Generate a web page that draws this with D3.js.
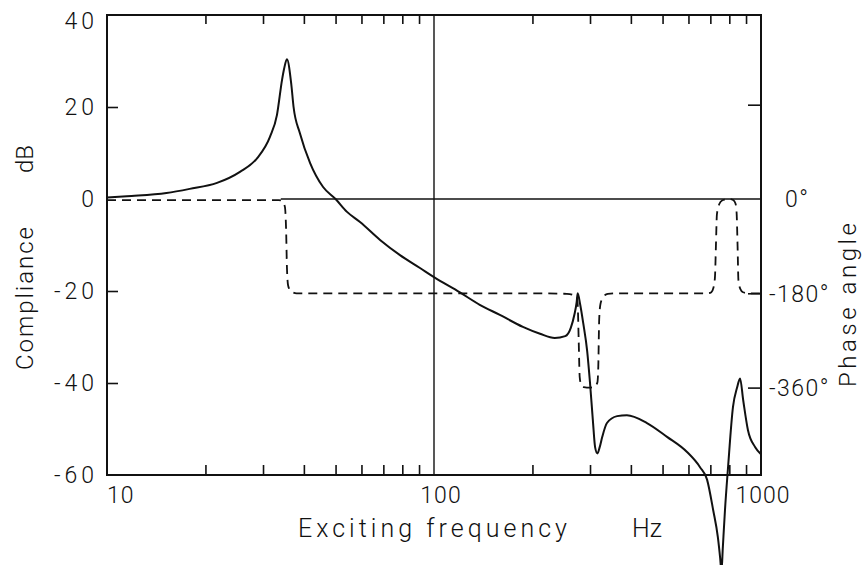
<!DOCTYPE html>
<html>
<head>
<meta charset="utf-8">
<script src="https://cdn.jsdelivr.net/npm/d3@7"></script>
<style>
  body { margin: 0; background: #fff; }
  svg text { font-family: Roboto, "DejaVu Sans", sans-serif; font-weight: 300; fill: #111; }
</style>
</head>
<body>
<svg id="chart" width="866" height="565"></svg>
<script>
// Compliance magnitude (dB) against exciting frequency (Hz)
const complianceHz = [10, 11.5, 15.2, 17.9, 21.7, 25.5, 28.8, 31.5, 33.1, 34.3, 34.8, 35.5, 36.6, 37.2, 38.9,
    41.8, 45.8, 50, 54.2, 59.4, 68.4, 78.7, 90.6, 100, 120, 138, 159, 187, 211, 234, 252, 262, 269, 273,
    275, 280, 286, 294, 300, 306, 311, 316, 321, 327, 338, 363, 389, 448, 516, 594, 651, 684, 714, 738,
    750, 757, 764, 776, 793, 821, 845, 863, 882, 912, 959, 1000];
const complianceDb = [0.3, 0.6, 1.3, 2.2, 3.5, 5.9, 8.9, 13.5, 18.3, 25.9, 28.3, 30.4, 25, 20, 14.3,
    7.8, 2.6, 0, -2.8, -5, -8.9, -12.2, -15, -17, -20.3, -23, -25.2, -27.8, -29.3, -30.2, -29.8, -28, -25, -22.5,
    -20.5, -23, -27, -33, -40, -48, -54, -55.3, -54, -51.7, -48.7, -47.2, -47, -48.7, -51.7, -55, -58.3, -61, -67.6, -73.5,
    -78, -81, -76, -67.6, -58.3, -45.2, -41, -39, -43.7, -50.2, -53.9, -55.5];

// Phase angle (degrees) against exciting frequency (Hz)
const phaseHz = [10, 20, 33.5, 34.4, 35, 35.3, 35.5, 35.8, 36.5, 38, 100, 200, 255, 266, 273, 275, 277,
    279, 282, 287, 300, 310, 316, 318, 320, 323, 330, 340, 360, 689, 705, 715, 723, 728, 733, 745, 760,
    780, 804, 822, 835, 842, 848, 853, 865, 881, 920, 1000];
const phaseDeg = [-2, -2, -2, -4, -15, -60, -130, -165, -176, -180, -180, -180, -181, -183, -187, -200, -270,
    -340, -355, -359, -360, -358, -350, -320, -230, -200, -186, -181, -180, -180, -178, -170, -150, -90, -30, -10, -3,
    -1, 0, -2, -8, -25, -90, -155, -172, -178, -180, -180];

// Axis ticks and labels
const dbTicks = [40, 20, 0, -20, -40, -60];
const dbTickLabels = ["40", "20", "0", "-20", "-40", "-60"];
const dbInnerTicks = [20, -20, -40];
const phaseInnerTicks = [180, -180, -360];
const phaseLabelTicks = [0, -180, -360];
const phaseTickLabels = ["0°", "-180°", "-360°"];
const freqLabelTicks = [10, 100, 1000];
const freqTickLabels = ["10", "100", "1000"];
const minorHz = [20, 30, 40, 50, 60, 70, 80, 90, 200, 300, 400, 500, 600, 700, 800, 900];

const svg = d3.select("#chart");
const plot = { left: 107, right: 761, top: 15, bottom: 475 };

const x = d3.scaleLog().domain([10, 1000]).range([plot.left, plot.right]);
const y = d3.scaleLinear().domain([-60, 40]).range([plot.bottom, plot.top]);
const yPhase = d3.scaleLinear().domain([0, -360]).range([y(0), y(-41)]);

const ink = "#111";

// inward minor ticks on top and bottom
svg.append("g")
    .attr("transform", `translate(0,${plot.bottom})`)
    .call(d3.axisBottom(x).tickValues(minorHz).tickSize(-10).tickFormat(""))
    .call(g => g.select(".domain").remove())
    .call(g => g.selectAll("line").attr("stroke", ink).attr("stroke-width", 1.6));

svg.append("g")
    .attr("transform", `translate(0,${plot.top})`)
    .call(d3.axisTop(x).tickValues(minorHz).tickSize(-9).tickFormat(""))
    .call(g => g.select(".domain").remove())
    .call(g => g.selectAll("line").attr("stroke", ink).attr("stroke-width", 1.6));

svg.append("g")
    .attr("transform", `translate(${plot.left},0)`)
    .call(d3.axisLeft(y).tickValues(dbInnerTicks).tickSize(-11).tickFormat(""))
    .call(g => g.select(".domain").remove())
    .call(g => g.selectAll("line").attr("stroke", ink).attr("stroke-width", 1.6));

svg.append("g")
    .attr("transform", `translate(${plot.right},0)`)
    .call(d3.axisRight(yPhase).tickValues(phaseInnerTicks).tickSize(-13).tickFormat(""))
    .call(g => g.select(".domain").remove())
    .call(g => g.selectAll("line").attr("stroke", ink).attr("stroke-width", 1.6));

// reference lines: 100 Hz and 0 dB / 0°
svg.append("line")
    .attr("x1", x(100)).attr("x2", x(100))
    .attr("y1", plot.top).attr("y2", plot.bottom)
    .attr("stroke", ink).attr("stroke-width", 1.4);

svg.append("line")
    .attr("x1", x(34)).attr("x2", plot.right)
    .attr("y1", y(0)).attr("y2", y(0))
    .attr("stroke", ink).attr("stroke-width", 1.4);

// frame
svg.append("rect")
    .attr("x", plot.left).attr("y", plot.top)
    .attr("width", plot.right - plot.left).attr("height", plot.bottom - plot.top)
    .attr("fill", "none")
    .attr("stroke", ink)
    .attr("stroke-width", 2);

// phase curve (dashed)
const phaseData = phaseHz.map((f, i) => ({ f, v: phaseDeg[i] }));
svg.append("path")
    .datum(phaseData)
    .attr("fill", "none")
    .attr("stroke", ink)
    .attr("stroke-width", 1.8)
    .attr("stroke-dasharray", "9,6")
    .attr("d", d3.line()
        .curve(d3.curveMonotoneX)
        .x(d => x(d.f))
        .y(d => yPhase(d.v)));

// compliance curve (solid)
const complianceData = complianceHz.map((f, i) => ({ f, v: complianceDb[i] }));
svg.append("path")
    .datum(complianceData)
    .attr("fill", "none")
    .attr("stroke", ink)
    .attr("stroke-width", 2)
    .attr("stroke-linejoin", "round")
    .attr("d", d3.line()
        .curve(d3.curveMonotoneX)
        .x(d => x(d.f))
        .y(d => y(d.v)));

// left tick labels
svg.append("g")
    .selectAll("text")
    .data(dbTicks)
    .enter()
    .append("text")
    .attr("x", plot.left - 9)
    .attr("y", d => Math.max(y(d), plot.top + 6))
    .attr("dy", "0.36em")
    .attr("text-anchor", "end")
    .style("font-size", "23px")
    .style("letter-spacing", "4px")
    .text((d, i) => dbTickLabels[i]);

// bottom tick labels
svg.append("g")
    .selectAll("text")
    .data(freqLabelTicks)
    .enter()
    .append("text")
    .attr("x", (d, i) => i === 0 ? x(d) : x(d) + (i === 1 ? 7 : 2))
    .attr("y", plot.bottom + 28)
    .attr("text-anchor", (d, i) => i === 0 ? "start" : "middle")
    .style("font-size", "23px")
    .style("letter-spacing", "1px")
    .text((d, i) => freqTickLabels[i]);

// right tick labels
svg.append("g")
    .selectAll("text")
    .data(phaseLabelTicks)
    .enter()
    .append("text")
    .attr("x", (d, i) => plot.right + (phaseTickLabels[i].startsWith("-") ? 8 : 24))
    .attr("y", d => yPhase(d))
    .attr("dy", "0.36em")
    .style("font-size", "23px")
    .style("letter-spacing", "1.5px")
    .text((d, i) => phaseTickLabels[i]);

// axis titles
svg.append("text")
    .attr("x", 298).attr("y", 537)
    .attr("textLength", 269)
    .attr("lengthAdjust", "spacing")
    .style("font-size", "25px")
    .text("Exciting frequency");

svg.append("text")
    .attr("x", 632).attr("y", 537)
    .style("font-size", "25px")
    .text("Hz");

svg.append("text")
    .attr("transform", "translate(33,370) rotate(-90)")
    .attr("textLength", 143)
    .attr("lengthAdjust", "spacing")
    .style("font-size", "24px")
    .text("Compliance");

svg.append("text")
    .attr("transform", "translate(33,173) rotate(-90)")
    .style("font-size", "24px")
    .text("dB");

svg.append("text")
    .attr("transform", "translate(856,387) rotate(-90)")
    .attr("textLength", 164)
    .attr("lengthAdjust", "spacing")
    .style("font-size", "24px")
    .text("Phase angle");
</script>
</body>
</html>
